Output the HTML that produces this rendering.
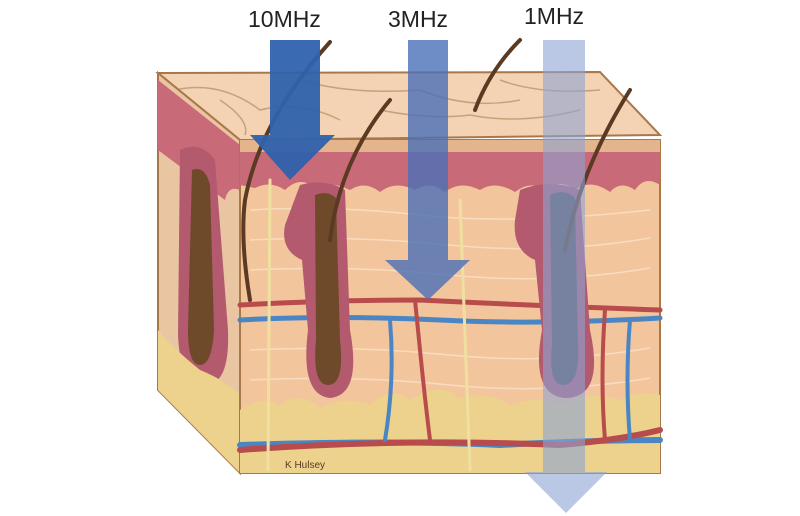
<!DOCTYPE html>
<html><head><meta charset="utf-8"><style>
html,body{margin:0;padding:0;background:#fff;width:800px;height:516px;overflow:hidden}
text{font-family:"Liberation Sans",sans-serif}
</style></head><body>
<svg width="800" height="516" viewBox="0 0 800 516" xmlns="http://www.w3.org/2000/svg">
<!-- top face -->
<polygon points="158,73 600,72 660,135 240,140" fill="#f3d3b3" stroke="#a9784a" stroke-width="2"/>
<g stroke="#c9a07a" stroke-width="1.5" fill="none">
<path d="M175,90 Q220,80 260,110 Q300,100 340,120"/><path d="M300,80 Q350,95 420,90 Q470,110 520,100"/>
<path d="M380,110 Q430,120 470,115 Q520,125 580,110"/><path d="M220,100 Q250,120 245,135"/>
<path d="M500,80 Q540,95 600,90"/>
</g>
<!-- left face -->
<polygon points="158,73 240,140 240,473 158,390" fill="#e9c5a2" stroke="#a9784a" stroke-width="2"/>
<path d="M158,80 L240,145 L240,190 Q228,185 225,200 L158,150 Z" fill="#c96a79"/>
<path d="M180,150 Q200,140 215,160 L228,330 Q230,385 205,385 Q180,385 178,335 Z" fill="#b45a6e"/>
<path d="M192,170 Q205,165 210,185 L214,330 Q212,365 200,365 Q188,365 188,330 Z" fill="#6e4a2a"/>
<path d="M158,330 Q175,350 200,370 Q225,380 240,395 L240,473 L158,390 Z" fill="#ecd28c"/>
<!-- front face dermis -->
<rect x="240" y="140" width="420" height="333" fill="#f2c59c" stroke="#a9784a" stroke-width="2"/>
<g stroke="#f8dcc0" stroke-width="1.5" fill="none">
<path d="M250,210 Q330,205 420,215 T650,210"/><path d="M250,240 Q350,235 450,245 T650,238"/>
<path d="M250,270 Q350,265 450,275 T650,268"/><path d="M250,350 Q350,345 450,355 T650,348"/>
<path d="M250,380 Q350,375 450,385 T650,378"/>
</g>
<!-- epidermis -->
<rect x="240" y="140" width="420" height="12" fill="#e4b48c"/>
<path d="M240,152 L660,152 L660,185 Q645,175 635,190 Q620,180 610,192 Q590,178 575,190 Q560,178 545,190 Q530,180 515,192 Q495,180 480,190 Q460,180 445,192 Q430,180 415,190 Q395,180 380,192 Q365,180 350,190 Q330,180 315,188 Q300,175 285,190 Q270,180 255,188 L240,185 Z" fill="#c96a79"/>
<!-- fat -->
<path d="M240,410 Q260,395 280,405 Q300,390 320,408 Q345,395 370,405 Q390,385 410,400 Q440,380 460,398 Q490,390 510,405 Q540,395 560,405 Q590,390 620,400 Q640,390 660,395 L660,473 L240,473 Z" fill="#ecd28c"/>
<!-- vessels -->
<g fill="none" stroke-linecap="round">
<path d="M240,305 Q330,300 420,300 Q520,305 660,310" stroke="#b84c4c" stroke-width="5"/>
<path d="M240,320 Q330,315 440,320 Q540,325 660,318" stroke="#4a86c4" stroke-width="5"/>
<path d="M240,445 Q400,440 500,445 Q600,440 660,440" stroke="#4a86c4" stroke-width="6"/>
<path d="M240,450 Q400,438 560,445 Q620,440 660,430" stroke="#b84c4c" stroke-width="6"/>
<path d="M415,300 L420,350 Q425,400 430,440" stroke="#b84c4c" stroke-width="4"/>
<path d="M390,320 Q395,380 385,440" stroke="#4a86c4" stroke-width="4"/>
<path d="M270,180 L268,470" stroke="#f0e0a0" stroke-width="3"/>
<path d="M460,200 L470,470" stroke="#f0e0a0" stroke-width="3"/>
<path d="M605,310 Q600,380 605,440" stroke="#b84c4c" stroke-width="4"/>
<path d="M630,320 Q625,380 630,440" stroke="#4a86c4" stroke-width="4"/>
</g>
<!-- follicles -->
<g>
<path d="M300,185 Q325,178 345,190 L350,330 Q362,395 330,398 Q300,395 308,330 L302,260 Q280,250 285,225 Z" fill="#b45a6e"/>
<path d="M315,195 Q328,190 336,198 L340,340 Q345,385 328,385 Q312,385 316,340 Z" fill="#6e4a2a"/>
<path d="M520,190 Q550,178 580,190 L590,330 Q605,398 565,398 Q530,395 542,330 L535,260 Q512,250 515,220 Z" fill="#b45a6e"/>
<path d="M550,195 Q565,188 575,198 L578,345 Q580,385 563,385 Q548,385 552,345 Z" fill="#555055"/>
</g>
<!-- hairs -->
<g fill="none" stroke="#5a3a22" stroke-width="4" stroke-linecap="round">
<path d="M330,42 Q260,120 245,200 Q240,240 250,300"/>
<path d="M390,100 Q340,160 330,240"/>
<path d="M520,40 Q490,70 475,110"/>
<path d="M630,90 Q580,170 565,250"/>
</g>
<!-- arrows -->
<polygon points="270,40 320,40 320,135 335,135 290,180 250,135 270,135" fill="#2f62ad" opacity="0.95"/>
<polygon points="408,40 448,40 448,260 470,260 428,300 385,260 408,260" fill="#4a6fb8" opacity="0.8"/>
<polygon points="543,40 585,40 585,472 607,472 566,513 525,472 543,472" fill="#8ea3d4" opacity="0.6"/>
<!-- labels -->
<text x="248" y="27" font-size="23" fill="#222">10MHz</text>
<text x="388" y="27" font-size="23" fill="#222">3MHz</text>
<text x="524" y="24" font-size="23" fill="#222">1MHz</text>
<text x="285" y="468" font-size="10" fill="#5a3a22">K Hulsey</text>
</svg>
</body></html>
